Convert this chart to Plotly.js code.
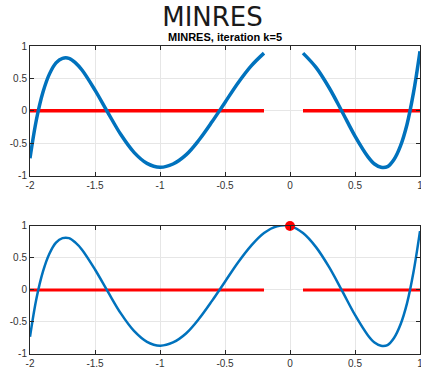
<!DOCTYPE html>
<html><head><meta charset="utf-8">
<script src="https://cdn.plot.ly/plotly-3.0.1.min.js"></script>
<style>html,body{margin:0;padding:0;background:#fff}#c{width:421px;height:371px}</style>
</head><body><div id="c"></div>
<script>
// Residual polynomial values
const xs = [-2, -1.95, -1.9, -1.85, -1.8, -1.75, -1.7, -1.65, -1.6, -1.5, -1.4, -1.3, -1.2, -1.1, -1.0, -0.9, -0.8, -0.7, -0.6, -0.5, -0.4, -0.3, -0.2, -0.1, 0, 0.1, 0.2, 0.3, 0.4, 0.5, 0.6, 0.65, 0.7, 0.75, 0.8, 0.85, 0.9, 0.95, 1.0];
const ys = [-0.73, -0.13, 0.29, 0.57, 0.74, 0.81, 0.81, 0.74, 0.63, 0.32, -0.03, -0.37, -0.64, -0.81, -0.87, -0.82, -0.68, -0.45, -0.17, 0.13, 0.43, 0.69, 0.89, 0.995, 1.0, 0.89, 0.67, 0.36, -0.01, -0.39, -0.71, -0.82, -0.87, -0.86, -0.75, -0.54, -0.21, 0.28, 0.92];
// Spectrum intervals
const intervalStart = [-2, 0.1];
const intervalEnd = [-0.2, 1];
const pointX = [0];
const pointY = [1];
const xTicks = [-2, -1.5, -1, -0.5, 0, 0.5, 1];
const xTickText = ['-2', '-1.5', '-1', '-0.5', '0', '0.5', '1'];
const yTicks = [-1, -0.5, 0, 0.5, 1];
const yTickText = ['-1', '-0.5', '0', '0.5', '1'];

const blue = '#0072BD';
const red = '#FF0000';

const tx = [], ty = [];
for (let k = 0; k < intervalStart.length; k++) {
  for (let i = 0; i < xs.length; i++) {
    if (xs[i] >= intervalStart[k] - 1e-9 && xs[i] <= intervalEnd[k] + 1e-9) { tx.push(xs[i]); ty.push(ys[i]); }
  }
  if (k < intervalStart.length - 1) { tx.push(null); ty.push(null); }
}
const rx = [], ry = [];
for (let k = 0; k < intervalStart.length; k++) {
  rx.push(intervalStart[k], intervalEnd[k]); ry.push(0, 0);
  if (k < intervalStart.length - 1) { rx.push(null); ry.push(null); }
}

const traces = [
  {x: rx, y: ry, xaxis: 'x', yaxis: 'y', mode: 'lines', line: {color: red, width: 3.5}, hoverinfo: 'skip'},
  {x: tx, y: ty, xaxis: 'x', yaxis: 'y', mode: 'lines', line: {color: blue, width: 3.5, shape: 'spline'}, connectgaps: false},
  {x: rx, y: ry, xaxis: 'x2', yaxis: 'y2', mode: 'lines', line: {color: red, width: 3.2}, hoverinfo: 'skip'},
  {x: xs, y: ys, xaxis: 'x2', yaxis: 'y2', mode: 'lines', line: {color: blue, width: 2.5, shape: 'spline'}},
  {x: pointX, y: pointY, xaxis: 'x2', yaxis: 'y2', mode: 'markers', marker: {color: red, size: 10}, cliponaxis: false}
];

function ax(extra) {
  return Object.assign({
    showline: true, mirror: 'ticks', linecolor: '#262626', linewidth: 1,
    ticks: 'inside', ticklen: 4, tickcolor: '#262626', tickwidth: 1,
    showgrid: true, gridcolor: '#e6e6e6', gridwidth: 1, zeroline: false,
    tickfont: {family: 'Liberation Sans, Arial, sans-serif', size: 10, color: '#333'},
    ticklabeloverflow: 'allow',
    fixedrange: true
  }, extra);
}

const layout = {
  width: 421, height: 371,
  margin: {l: 30, r: 1, t: 46, b: 17},
  paper_bgcolor: '#fff', plot_bgcolor: '#fff',
  showlegend: false,
  title: {text: 'MINRES', font: {family: 'DejaVu Sans, sans-serif', size: 26, color: '#1a1a1a'}, x: 197/421, xanchor: 'center', xref: 'paper', y: 1 - 17/371, yanchor: 'middle', yref: 'container'},
  xaxis: ax({domain: [0, 1], range: [-2, 1], tickvals: xTicks, ticktext: xTickText, anchor: 'y'}),
  yaxis: ax({domain: [0.579, 1], range: [-1, 1], tickvals: yTicks, ticktext: yTickText, anchor: 'x'}),
  xaxis2: ax({domain: [0, 1], range: [-2, 1], tickvals: xTicks, ticktext: xTickText, anchor: 'y2'}),
  yaxis2: ax({domain: [0, 0.4156], range: [-1, 1], tickvals: yTicks, ticktext: yTickText, anchor: 'x2'}),
  annotations: [{
    text: '<b>MINRES, iteration k=5</b>', xref: 'paper', yref: 'paper', x: 0.5, y: 1, yanchor: 'bottom', yshift: 1,
    showarrow: false, font: {family: 'Liberation Sans, Arial, sans-serif', size: 11, color: '#000'}
  }]
};

Plotly.newPlot('c', traces, layout, {staticPlot: true, displayModeBar: false});
</script></body></html>
